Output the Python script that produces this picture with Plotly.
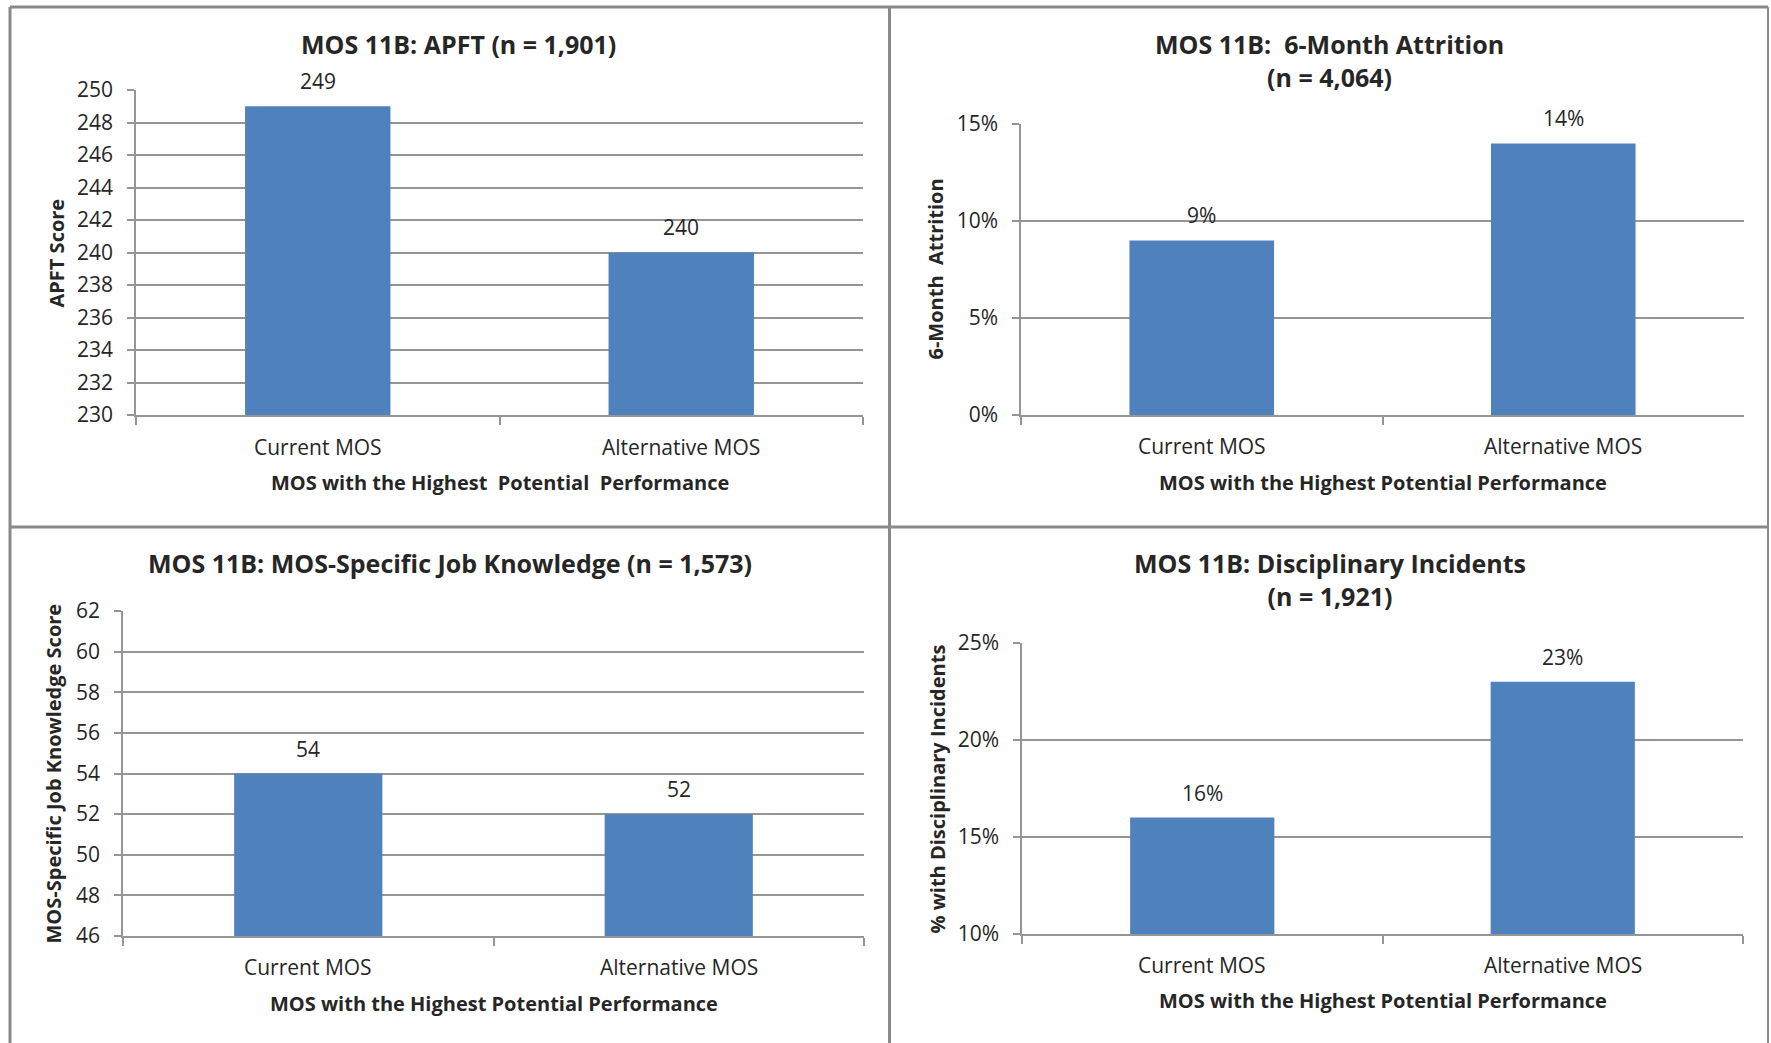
import plotly.graph_objects as go

W, H = 1771, 1043

categories = ["Current MOS", "Alternative MOS"]

apft_values = [249, 240]
attrition_values = [0.09, 0.14]
knowledge_values = [54, 52]
disciplinary_values = [0.16, 0.23]

apft_labels = ["249", "240"]
attrition_labels = ["9%", "14%"]
knowledge_labels = ["54", "52"]
disciplinary_labels = ["16%", "23%"]

titles = [
    "MOS 11B: APFT (n = 1,901)",
    "MOS 11B: \u00a06-Month Attrition<br>(n = 4,064)",
    "MOS 11B: MOS-Specific Job Knowledge (n = 1,573)",
    "MOS 11B: Disciplinary Incidents<br>(n = 1,921)",
]
y_titles = ["APFT Score", "6-Month  Attrition", "MOS-Specific Job Knowledge Score",
            "% with Disciplinary Incidents"]
x_titles = ["MOS with the Highest \u00a0Potential \u00a0Performance",
            "MOS with the Highest Potential Performance",
            "MOS with the Highest Potential Performance",
            "MOS with the Highest Potential Performance"]

BAR = "#4F81BD"
GRID = "#959595"
TXT = "#262626"
FONT = "Open Sans"


def fx(px):
    return px / W


def fy(py):
    return 1 - py / H


# plot areas in pixels: (x0, x1, ytop, ybottom)
areas = [
    (136, 863, 90, 415),
    (1021, 1744, 124, 415),
    (123, 864, 611, 936),
    (1022, 1743, 643, 934),
]
ranges = [[230, 250], [0, 0.15], [46, 62], [0.10, 0.25]]
dticks = [2, 0.05, 2, 0.05]
fmts = ["d", ".0%", "d", ".0%"]
values = [apft_values, attrition_values, knowledge_values, disciplinary_values]
labels = [apft_labels, attrition_labels, knowledge_labels, disciplinary_labels]

# title positions (center x, center y) in pixels
title_pos = [(458, 44), (1329, 61), (450, 563), (1330, 579)]
ytitle_pos = [56, 935, 53, 937]
xtick_y = [447, 446, 967, 965]
xtitle_y = [482, 482, 1003, 1000]

fig = go.Figure()
layout = dict(
    template="none",
    width=W, height=H,
    margin=dict(l=0, r=0, t=0, b=0, pad=0, autoexpand=False),
    paper_bgcolor="white", plot_bgcolor="white",
    showlegend=False,
    font=dict(family=FONT, size=21, color=TXT),
    bargap=0.6,
)
annotations = []
shapes = []

for i in range(4):
    n = "" if i == 0 else str(i + 1)
    xa, ya = "x" + n, "y" + n
    x0, x1, yt, yb = areas[i]
    fig.add_trace(go.Bar(x=categories, y=values[i], marker=dict(color=BAR, line=dict(width=0)),
                         xaxis=xa, yaxis=ya, hoverinfo="skip"))
    layout["xaxis" + n] = dict(
        domain=[fx(x0), fx(x1)], anchor=ya, type="category", automargin=False,
        showline=True, linecolor=GRID, linewidth=1.5,
        ticks="outside", tickson="boundaries", ticklen=8, tickcolor=GRID, tickwidth=1.5,
        showgrid=False, tickfont=dict(size=21, color=TXT),
        showticklabels=False, zeroline=False,
    )
    layout["yaxis" + n] = dict(
        domain=[fy(yb), fy(yt)], anchor=xa, range=ranges[i], dtick=dticks[i],
        tick0=ranges[i][0], tickformat=fmts[i], automargin=False,
        showline=True, linecolor=GRID, linewidth=1.5,
        ticks="outside", ticklen=7, tickcolor=GRID, tickwidth=1.5,
        showgrid=True, gridcolor=GRID, gridwidth=1.5,
        tickfont=dict(size=21, color=TXT), zeroline=False,
        ticklabelstandoff=10,
    )
    # data labels
    for c, v, t in zip(categories, values[i], labels[i]):
        annotations.append(dict(x=c, y=v, xref=xa, yref=ya, text=t, showarrow=False,
                                yanchor="bottom", yshift=9, font=dict(size=21, color=TXT)))
    # category tick labels
    for k, c in enumerate(categories):
        cx = x0 + (x1 - x0) * (k + 0.5) / 2
        annotations.append(dict(x=fx(cx), y=fy(xtick_y[i]), xref="paper", yref="paper",
                                text=c, showarrow=False, xanchor="center", yanchor="middle",
                                font=dict(size=21, color=TXT)))
    # chart title
    tx, ty = title_pos[i]
    annotations.append(dict(x=fx(tx), y=fy(ty), xref="paper", yref="paper", text="<b>" + titles[i] + "</b>",
                            showarrow=False, xanchor="center", yanchor="middle",
                            font=dict(size=25, color=TXT)))
    # x title
    annotations.append(dict(x=fx((x0 + x1) / 2), y=fy(xtitle_y[i]), xref="paper", yref="paper",
                            text="<b>" + x_titles[i] + "</b>", showarrow=False,
                            xanchor="center", yanchor="middle", font=dict(size=20, color=TXT)))
    # y title
    annotations.append(dict(x=fx(ytitle_pos[i]), y=fy((yt + yb) / 2), xref="paper", yref="paper",
                            text="<b>" + y_titles[i].replace("  ", " \u00a0") + "</b>", showarrow=False,
                            textangle=-90, xanchor="center", yanchor="middle",
                            font=dict(size=20, color=TXT)))

BORDER = "#8a8a8a"
border_lines = [
    (10, 7, 1768, 7, 3),
    (10, 7, 10, 1043, 3),
    (889.5, 7, 889.5, 1043, 3),
    (10, 527, 1768, 527, 3),
    (1768, 7, 1768, 1043, 2),
]
for (ax0, ay0, ax1, ay1, wdt) in border_lines:
    shapes.append(dict(type="line", xref="paper", yref="paper", x0=fx(ax0), y0=fy(ay0),
                       x1=fx(ax1), y1=fy(ay1), line=dict(color=BORDER, width=wdt)))

layout["annotations"] = annotations
layout["shapes"] = shapes
fig.update_layout(**layout)
fig.write_html("out.html", config={"displayModeBar": False},
               post_script="document.body.style.margin='0';document.body.style.overflow='hidden';")
